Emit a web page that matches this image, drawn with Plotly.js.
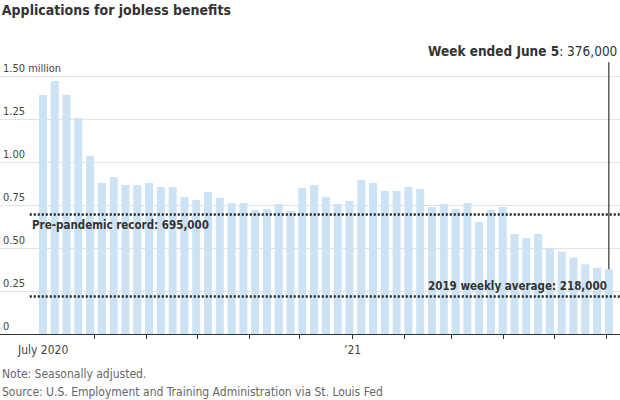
<!DOCTYPE html>
<html>
<head>
<meta charset="utf-8">
<script src="https://cdn.plot.ly/plotly-3.0.1.min.js"></script>
<style>html,body{margin:0;padding:0;background:#fff;}#chart{width:620px;height:400px;}</style>
</head>
<body>
<div id="chart"></div>
<script>
// Week-ending dates (Saturdays)
const weekEnding = [
  "2020-07-04","2020-07-11","2020-07-18","2020-07-25","2020-08-01","2020-08-08","2020-08-15","2020-08-22",
  "2020-08-29","2020-09-05","2020-09-12","2020-09-19","2020-09-26","2020-10-03","2020-10-10","2020-10-17",
  "2020-10-24","2020-10-31","2020-11-07","2020-11-14","2020-11-21","2020-11-28","2020-12-05","2020-12-12",
  "2020-12-19","2020-12-26","2021-01-02","2021-01-09","2021-01-16","2021-01-23","2021-01-30","2021-02-06",
  "2021-02-13","2021-02-20","2021-02-27","2021-03-06","2021-03-13","2021-03-20","2021-03-27","2021-04-03",
  "2021-04-10","2021-04-17","2021-04-24","2021-05-01","2021-05-08","2021-05-15","2021-05-22","2021-05-29",
  "2021-06-05"
];
// Initial jobless claims, millions, seasonally adjusted
const claims = [
  1.390,1.471,1.390,1.256,1.035,0.878,0.913,0.866,
  0.866,0.878,0.855,0.855,0.797,0.779,0.826,0.791,
  0.762,0.762,0.721,0.727,0.756,0.715,0.849,0.866,
  0.797,0.756,0.773,0.895,0.878,0.831,0.831,0.855,
  0.843,0.738,0.756,0.727,0.762,0.651,0.721,0.738,
  0.581,0.558,0.581,0.498,0.478,0.444,0.405,0.385,
  0.376
];
const preRecord = 0.695;
const avg2019 = 0.218;
const yTickVals = [0, 0.25, 0.5, 0.75, 1.0, 1.25, 1.5];
const yTickText = ["0", "0.25", "0.50", "0.75", "1.00", "1.25", "1.50 million"];
const xTickVals = ["2020-07-01","2020-08-01","2020-09-01","2020-10-01","2020-11-01","2020-12-01",
                   "2021-01-01","2021-02-01","2021-03-01","2021-04-01","2021-05-01","2021-06-01"];
const xTickText = ["July 2020","","","","","","\u201921","","","","",""];

const FONT = "'Liberation Sans Narrow', 'DejaVu Sans Condensed', 'Roboto', sans-serif";
const lastVal = claims[claims.length - 1];

const trace = {
  type: "bar",
  x: weekEnding,
  y: claims,
  xperiod: 7 * 86400000,
  xperiod0: "2020-06-28",
  xperiodalignment: "middle",
  marker: {color: "#cce3f6"},
  hoverinfo: "x+y"
};

const xLabelAnnotations = xTickVals
  .map((v, i) => ({v: v, t: xTickText[i]}))
  .filter(d => d.t !== "")
  .map(d => ({xref: "x", yref: "paper", x: d.v, y: 0, xanchor: "center", yanchor: "top", yshift: -7,
              text: d.t, showarrow: false, font: {family: FONT, size: 12, color: "#444"}}));

const layout = {
  width: 620, height: 400,
  margin: {l: 0, r: 0, t: 60, b: 66},
  paper_bgcolor: "#fff", plot_bgcolor: "#fff",
  font: {family: FONT, size: 12, color: "#333"},
  bargap: 0.32,
  showlegend: false,
  title: {text: "<b>Applications for jobless benefits</b>", x: 0.003, xanchor: "left", xref: "paper",
          y: 0.975, yanchor: "middle", yref: "container",
          font: {family: FONT, size: 14, color: "#333"}},
  xaxis: {
    type: "date",
    range: ["2020-06-06", "2021-06-09 03:00"],
    tickmode: "array", tickvals: xTickVals, ticktext: xTickVals.map(() => ""),
    ticks: "outside", ticklen: 4, tickcolor: "#333", tickwidth: 1,
    showgrid: false, showline: true, linecolor: "#333", linewidth: 1,
    tickfont: {family: FONT, size: 12, color: "#444"},
    fixedrange: true
  },
  yaxis: {
    range: [0, 1.593],
    tickmode: "array", tickvals: yTickVals, ticktext: yTickText,
    ticklabelposition: "inside top",
    showgrid: true, gridcolor: "#e2e2e2", gridwidth: 1,
    zeroline: false, showline: false, ticks: "",
    tickfont: {family: FONT, size: 11, color: "#444"},
    fixedrange: true
  },
  shapes: [
    {type: "line", xref: "paper", yref: "y", x0: 0.048, x1: 1, y0: preRecord, y1: preRecord,
     line: {color: "#222", width: 2.5, dash: "2px,2px"}},
    {type: "line", xref: "paper", yref: "y", x0: 0.048, x1: 1, y0: avg2019, y1: avg2019,
     line: {color: "#222", width: 2.5, dash: "2px,2px"}},
    {type: "line", xref: "x", yref: "y", x0: "2021-06-02 12:00", x1: "2021-06-02 12:00", y0: lastVal, y1: 1.58,
     line: {color: "#333", width: 1.2}}
  ],
  annotations: [
    {xref: "paper", yref: "y", x: 0.049, y: preRecord, xanchor: "left", yanchor: "top", yshift: -2,
     text: "<b>Pre-pandemic record: 695,000</b>", showarrow: false,
     font: {family: FONT, size: 11.5, color: "#333"}},
    {xref: "paper", yref: "y", x: 0.983, y: avg2019, xanchor: "right", yanchor: "bottom", yshift: 2,
     text: "<b>2019 weekly average: 218,000</b>", showarrow: false,
     font: {family: FONT, size: 11.5, color: "#333"}},
    {xref: "paper", yref: "paper", x: 0.998, y: 1.033, xanchor: "right", yanchor: "middle",
     text: "<b>Week ended June 5</b>: 376,000", showarrow: false,
     font: {family: FONT, size: 13.5, color: "#333"}},
    {xref: "paper", yref: "paper", x: 0, y: -0.146, xanchor: "left", yanchor: "middle",
     text: "Note: Seasonally adjusted.", showarrow: false,
     font: {family: FONT, size: 12, color: "#666"}},
    {xref: "paper", yref: "paper", x: 0, y: -0.212, xanchor: "left", yanchor: "middle",
     text: "Source: U.S. Employment and Training Administration via St. Louis Fed", showarrow: false,
     font: {family: FONT, size: 12, color: "#666"}}
  ].concat(xLabelAnnotations)
};

Plotly.newPlot("chart", [trace], layout, {displayModeBar: false, staticPlot: true});
</script>
</body>
</html>
